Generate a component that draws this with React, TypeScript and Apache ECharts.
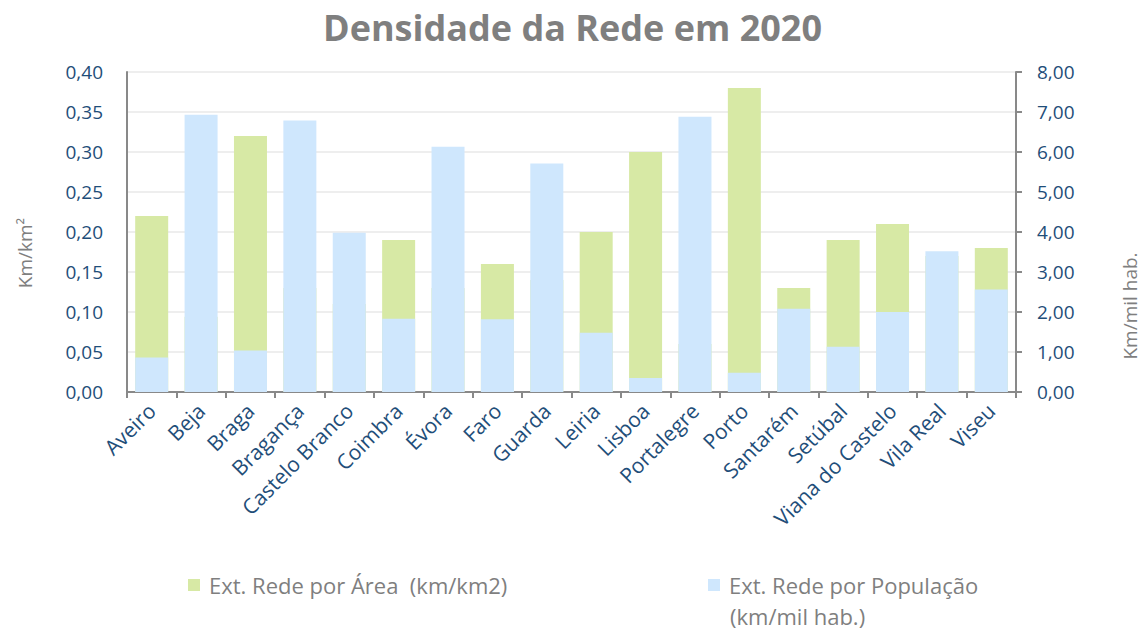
import React, { useEffect, useRef } from "react";
import * as echarts from "echarts";

const categories = [
  "Aveiro", "Beja", "Braga", "Bragança", "Castelo Branco", "Coimbra", "Évora", "Faro", "Guarda",
  "Leiria", "Lisboa", "Portalegre", "Porto", "Santarém", "Setúbal", "Viana do Castelo", "Vila Real", "Viseu",
];
const areaValues = [0.22, 0.094, 0.32, 0.13, 0.11, 0.19, 0.13, 0.16, 0.14, 0.2, 0.3, 0.06, 0.38, 0.13, 0.19, 0.21, 0.17, 0.18];
const popValues = [0.86, 6.93, 1.04, 6.79, 3.98, 1.83, 6.13, 1.82, 5.71, 1.48, 0.35, 6.88, 0.48, 2.08, 1.13, 2.0, 3.52, 2.56];
const areaName = "Ext. Rede por Área  (km/km2)";
const popName = "Ext. Rede por População";
const popName2 = "(km/mil hab.)";
const titleText = "Densidade da Rede em 2020";
const leftAxisName = "Km/km²";
const rightAxisName = "Km/mil hab.";

const fmt = (v: number) => v.toFixed(2).replace(".", ",");

export default function App() {
  const ref = useRef<HTMLDivElement>(null);
  useEffect(() => {
    if (!ref.current) return;
    const chart = echarts.init(ref.current, undefined, { renderer: "svg" });
    const axisColor = "#898989";
    const labelColor = "#1F4E79";
    const legendText = {
      fontFamily: "Open Sans",
      fontSize: 22,
      lineHeight: 22,
      color: "#7F7F7F",
      padding: [0, 0, 0, 4],
    };
    chart.setOption({
      animation: false,
      backgroundColor: "#ffffff",
      title: {
        text: titleText,
        left: 318,
        top: 4,
        textStyle: { fontFamily: "Open Sans", fontSize: 36, fontWeight: "bold", color: "#7F7F7F" },
      },
      grid: { left: 127, right: 129, top: 72, bottom: 238, containLabel: false },
      legend: [
        {
          data: [areaName],
          left: 188,
          top: 574,
          padding: 0,
          itemWidth: 12,
          itemHeight: 12,
          icon: "rect",
          textStyle: legendText,
        },
        {
          data: [popName],
          left: 708,
          top: 574,
          padding: 0,
          itemWidth: 12,
          itemHeight: 12,
          icon: "rect",
          textStyle: legendText,
        },
      ],
      graphic: [
        {
          type: "text",
          left: 730,
          top: 605,
          style: { text: popName2, fontFamily: "Open Sans", fontSize: 22, lineHeight: 22, fill: "#7F7F7F" },
        },
        {
          type: "text",
          x: 25,
          y: 253,
          rotation: Math.PI / 2,
          style: {
            text: leftAxisName,
            fontFamily: "Open Sans",
            fontSize: 19,
            fill: "#7F7F7F",
            textAlign: "center",
            textVerticalAlign: "middle",
          },
        },
        {
          type: "text",
          x: 1130,
          y: 306,
          rotation: Math.PI / 2,
          style: {
            text: rightAxisName,
            fontFamily: "Open Sans",
            fontSize: 19,
            fill: "#7F7F7F",
            textAlign: "center",
            textVerticalAlign: "middle",
          },
        },
      ],
      xAxis: {
        type: "category",
        data: categories,
        axisLine: { lineStyle: { color: axisColor, width: 2 } },
        axisTick: { show: true, length: 6, lineStyle: { color: axisColor, width: 2 } },
        axisLabel: {
          rotate: 45,
          interval: 0,
          margin: 15,
          fontFamily: "Open Sans",
          fontSize: 21,
          color: labelColor,
        },
      },
      yAxis: [
        {
          type: "value",
          min: 0,
          max: 0.4,
          interval: 0.05,
          axisLine: { show: true, lineStyle: { color: axisColor, width: 2 } },
          axisTick: { show: false },
          axisLabel: { formatter: fmt, fontFamily: "Open Sans", fontSize: 19, color: labelColor, margin: 24 },
          splitLine: { lineStyle: { color: "#EEEEEE", width: 2 } },
        },
        {
          type: "value",
          min: 0,
          max: 8,
          interval: 1,
          axisLine: { show: true, lineStyle: { color: axisColor, width: 2 } },
          axisTick: { show: true, length: 6, lineStyle: { color: axisColor, width: 2 } },
          axisLabel: { formatter: fmt, fontFamily: "Open Sans", fontSize: 19, color: labelColor, margin: 21 },
          splitLine: { show: false },
        },
      ],
      series: [
        {
          name: areaName,
          type: "bar",
          yAxisIndex: 0,
          data: areaValues,
          barWidth: 33,
          barGap: "-100%",
          itemStyle: { color: "#D7E9A5" },
        },
        {
          name: popName,
          type: "bar",
          yAxisIndex: 1,
          data: popValues,
          barWidth: 33,
          barGap: "-100%",
          itemStyle: { color: "#CFE7FD" },
        },
      ],
    });
    return () => chart.dispose();
  }, []);
  return (
    <div
      ref={ref}
      style={{ position: "absolute", left: 0, top: 0, width: 1145, height: 630 }}
    />
  );
}
